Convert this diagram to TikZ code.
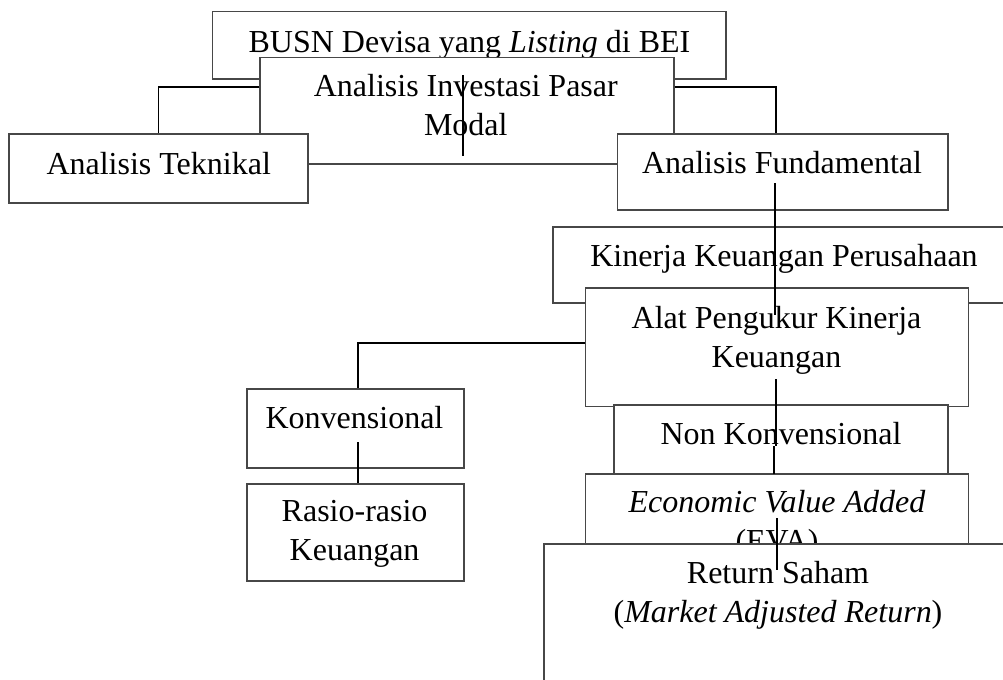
\documentclass[tikz,border=0pt]{standalone}
\usepackage{fontspec}
\setmainfont{Liberation Serif}
\usetikzlibrary{fit}
\tikzset{
  box/.style={draw=black!72, line width=0.8pt, fill=white, inner sep=0pt, rectangle},
  txt/.style={anchor=base, inner sep=0pt, align=center, font=\fontsize{24}{29.25}\selectfont},
  conn/.style={draw=black, line width=1.2pt},
}
\begin{document}
\begin{tikzpicture}[x=0.75pt,y=-0.75pt]
\clip (0,0) rectangle (1003,679);
\fill[white] (0,0) rectangle (1003,679);
% boxes and texts, back to front (anchor=base sits on the last line)
\node[box, fit={(212.3,11.7) (726,79)}] (busn) {};
\node[txt] (busnT) at (469.5,52.7) {BUSN Devisa yang \textit{Listing} di BEI};
\node[box, fit={(260,57.3) (674,164)}] (inv) {};
\node[txt] (invT) at (465.8,135) {Analisis Investasi Pasar\\Modal};
\node[box, fit={(9,134) (308,203)}] (tek) {};
\node[txt] (tekT) at (158.7,174) {Analisis Teknikal};
\node[box, fit={(617.7,134) (948,210)}] (fun) {};
\node[txt] (funT) at (782,173.3) {Analisis Fundamental};
\node[box, fit={(553,227) (1040,303)}] (kin) {};
\node[txt] (kinT) at (784,266.7) {Kinerja Keuangan Perusahaan};
\node[box, fit={(585.7,288) (968.3,406.5)}] (alat) {};
\node[txt] (alatT) at (776.5,367) {Alat Pengukur Kinerja\\Keuangan};
\node[box, fit={(247,389) (464,468)}] (konv) {};
\node[txt] (konvT) at (354.5,428) {Konvensional};
\node[box, fit={(247,484) (464,581)}] (ras) {};
\node[txt] (rasT) at (354.6,560.5) {Rasio-rasio\\Keuangan};
\node[box, fit={(614,405) (948,473.3)}] (non) {};
\node[txt] (nonT) at (781,444) {Non Konvensional};
\node[box, fit={(585.7,474) (968.3,600)}] (eva) {};
\node[txt] (evaT) at (777,551) {\textit{Economic Value Added}\\(EVA)};
\node[box, fit={(544,544) (1040,720)}] (ret) {};
\node[txt] (retT) at (778,622) {Return Saham\\(\textit{Market Adjusted Return})};
% connectors
\coordinate (e1) at (158.5,86.7);
\coordinate (e2) at (776,86.7);
\coordinate (e3) at (358,342.7);
\draw[conn] (inv.west |- e1) -| (tek.north -| e1);
\draw[conn] (inv.east |- e2) -| (fun.north -| e2);
\draw[conn] (alat.west |- e3) -| (konv.north -| e3);
\coordinate (c1) at (463,75);
\coordinate (c2) at (463,156);
\draw[conn] (c1) -- (c2);
\coordinate (f1) at (775,183);
\coordinate (f2) at (775,315);
\draw[conn] (f1) -- (f2);
\coordinate (k1) at (358,442);
\draw[conn] (k1) -- (ras.north -| k1);
\coordinate (a1) at (776,379);
\coordinate (a2) at (776,446);
\draw[conn] (a1) -- (a2);
\coordinate (n1) at (774,446);
\draw[conn] (n1) -- (non.south -| n1);
\coordinate (v1) at (776.7,518);
\coordinate (v2) at (776.7,570);
\draw[conn] (v1) -- (v2);
\end{tikzpicture}
\end{document}
